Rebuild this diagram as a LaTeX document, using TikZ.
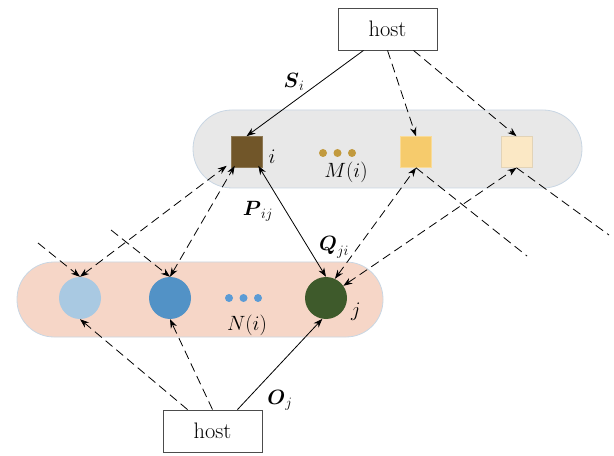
\documentclass[tikz,border=0pt]{standalone}
\usepackage{amsmath}
\usetikzlibrary{arrows.meta}
\definecolor{bandgray}{HTML}{E8E8E8}
\definecolor{bandpink}{HTML}{F6D6C7}
\definecolor{bandedge}{HTML}{C9D6E3}
\definecolor{sqbrown}{HTML}{715629}
\definecolor{sqgold}{HTML}{F6CB6C}
\definecolor{sqcream}{HTML}{FBE8C5}
\definecolor{dotgold}{HTML}{C29A3E}
\definecolor{cirlight}{HTML}{A9C9E2}
\definecolor{cirblue}{HTML}{5292C6}
\definecolor{dotblue}{HTML}{5B9BD5}
\definecolor{cirgreen}{HTML}{3E5A2B}
\begin{document}
\begin{tikzpicture}[x=1bp,y=-1bp,
  hostbox/.style={draw=black!70,line width=0.9bp,fill=white,minimum width=99bp,minimum height=42bp,inner sep=0pt,font=\fontsize{22.5}{26}\selectfont},
  sqnode/.style={minimum size=31bp,inner sep=0pt,line width=0.6bp},
  cirnode/.style={circle,minimum size=42bp,inner sep=0pt},
  lbl/.style={font=\fontsize{21.5}{25}\selectfont,inner sep=0pt},
  blbl/.style={font=\fontsize{22}{26}\selectfont,inner sep=0pt},
  dotn/.style={circle,minimum size=8bp,inner sep=0pt},
  conn/.style={line width=0.8bp,-{Stealth[length=9bp,width=6.5bp]}},
  bconn/.style={line width=0.8bp,{Stealth[length=9bp,width=6.5bp]}-{Stealth[length=9bp,width=6.5bp]}},
  dsh/.style={dash pattern=on 9bp off 5bp}]
\useasboundingbox (0,0) rectangle (614,456);
% bands
\draw[fill=bandgray,draw=bandedge,line width=0.8bp,rounded corners=39bp] (193,110) rectangle (582,188);
\draw[fill=bandpink,draw=bandedge,line width=0.8bp,rounded corners=37bp] (17,262) rectangle (383,337);
% hosts
\node[hostbox] (hostT) at (387.5,29) {host};
\node[hostbox] (hostB) at (212.5,431) {host};
% squares
\node[sqnode,fill=sqbrown,draw=sqbrown!80!white] (sqi) at (246.5,152) {};
\node[sqnode,fill=sqgold,draw=sqgold!70!white] (sqb) at (416,152) {};
\node[sqnode,fill=sqcream,draw=sqcream!80!gray] (sqc) at (516.5,152) {};
\node[dotn,fill=dotgold] (m1) at (323,153) {};
\node[dotn,fill=dotgold] (m2) at (337.5,153) {};
\node[dotn,fill=dotgold] (m3) at (352,153) {};
% circles
\node[cirnode,fill=cirlight] (ca) at (80,298) {};
\node[cirnode,fill=cirblue] (cb) at (170,298) {};
\node[cirnode,fill=cirgreen] (cj) at (326,298) {};
\node[dotn,fill=dotblue] (n1) at (229,298) {};
\node[dotn,fill=dotblue] (n2) at (243.5,298) {};
\node[dotn,fill=dotblue] (n3) at (258,298) {};
% labels
\node[lbl] (li) at (272,157) {$i$};
\node[lbl] (lj) at (356,312) {$j$};
\node[lbl] (lM) at (346,172) {$M(i)$};
\node[lbl] (lN) at (247,325) {$N(i)$};
\node[blbl] (lS) at (294,82) {$\boldsymbol{S}_{i}$};
\node[blbl] (lP) at (258,211) {$\boldsymbol{P}_{ij}$};
\node[blbl] (lQ) at (334,247) {$\boldsymbol{Q}_{ji}$};
\node[blbl] (lO) at (280,400) {$\boldsymbol{O}_{j}$};
% free ends
\coordinate (fa) at (38,243);
\coordinate (fb) at (111,230);
\coordinate (fc) at (527,256);
\coordinate (fd) at (609,235);
% top host connectors
\draw[conn] ([xshift=-24bp]hostT.south) -- (sqi.north);
\draw[conn,dsh] (hostT.south) -- (sqb.north);
\draw[conn,dsh] ([xshift=26bp]hostT.south) -- (sqc.north);
% square i to circles
\draw[bconn,dsh] (ca.north) -- ([xshift=-4bp,yshift=2bp]sqi.south west);
\draw[bconn,dsh] (cb.north) -- ([xshift=4bp,yshift=2bp]sqi.south west);
\draw[bconn] (cj.north) -- ([xshift=-4bp,yshift=2bp]sqi.south east);
\draw[bconn,dsh] (cj.65) -- (sqb.south);
\draw[bconn,dsh] (cj.35) -- (sqc.south);
% free dashed lines
\draw[line width=0.8bp,dsh] (sqb.south) -- (fc);
\draw[line width=0.8bp,dsh] (sqc.south) -- (fd);
\draw[conn,dsh] (fa) -- (ca.north);
\draw[conn,dsh] (fb) -- (cb.north);
% bottom host connectors
\draw[conn,dsh] ([xshift=-25bp]hostB.north) -- (ca.south);
\draw[conn,dsh] (hostB.north) -- (cb.south);
\draw[conn] ([xshift=25bp]hostB.north) -- (cj.-100);
\end{tikzpicture}
\end{document}
